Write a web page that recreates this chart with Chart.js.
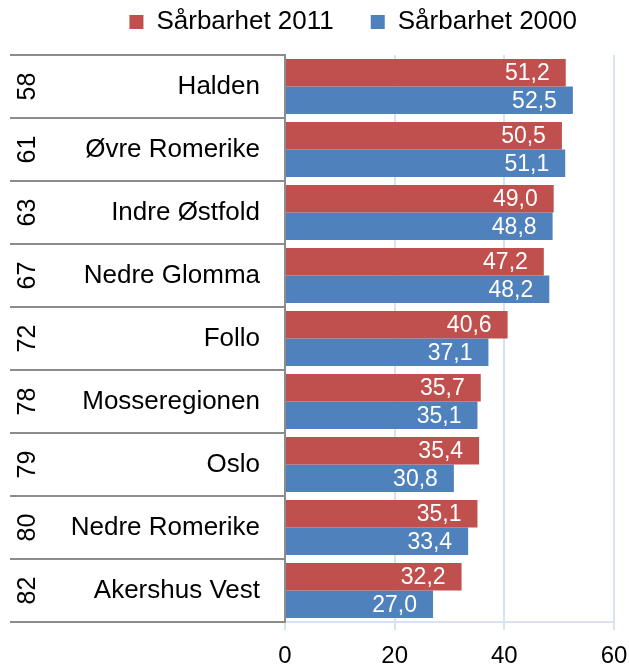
<!DOCTYPE html>
<html lang="no">
<head>
<meta charset="UTF-8">
<title>Sårbarhet 2000 og 2011</title>
<script src="https://cdn.jsdelivr.net/npm/chart.js@4/dist/chart.umd.min.js"></script>
<style>
    html, body { margin: 0; padding: 0; background: #ffffff; }
    .chart-box { position: relative; width: 629px; height: 665px; }
</style>
</head>
<body>
<div class="chart-box">
    <canvas id="sarbarhetChart"></canvas>
</div>
<script>
// --- Data ---
const regions = ['Halden', 'Øvre Romerike', 'Indre Østfold', 'Nedre Glomma', 'Follo',
    'Mosseregionen', 'Oslo', 'Nedre Romerike', 'Akershus Vest'];
const ranks = ['58', '61', '63', '67', '72', '78', '79', '80', '82'];
const values2011 = [51.2, 50.5, 49.0, 47.2, 40.6, 35.7, 35.4, 35.1, 32.2];
const values2000 = [52.5, 51.1, 48.8, 48.2, 37.1, 35.1, 30.8, 33.4, 27.0];
const xTicks = [0, 20, 40, 60];

// --- Styling ---
const FONT = "'Liberation Sans', Arial, sans-serif";
const RED = '#C0504D';
const BLUE = '#4F81BD';
const GRID_BLUE = '#D9E2F0';
const AXIS_GREY = '#8C8C8C';

const formatValue = (v) => v.toFixed(1).replace('.', ',');

// Rank numbers and separator lines for the two-level category axis
const categoryBoxes = {
    id: 'categoryBoxes',
    afterDraw(chart) {
        const { ctx, chartArea } = chart;
        const band = (chartArea.bottom - chartArea.top) / regions.length;
        ctx.save();
        ctx.strokeStyle = AXIS_GREY;
        ctx.lineWidth = 2;
        for (let i = 0; i <= regions.length; i++) {
            const y = Math.round(chartArea.top + i * band);
            ctx.beginPath();
            ctx.moveTo(10, y);
            ctx.lineTo(chartArea.left, y);
            ctx.stroke();
        }
        ctx.fillStyle = '#000000';
        ctx.font = `25px ${FONT}`;
        ctx.textAlign = 'center';
        ctx.textBaseline = 'middle';
        ranks.forEach((r, i) => {
            const y = chart.scales.y.getPixelForValue(i);
            ctx.save();
            ctx.translate(28, y);
            ctx.rotate(-Math.PI / 2);
            ctx.fillText(r, 0, 0);
            ctx.restore();
        });
        ctx.restore();
    }
};

// White value labels inside the end of each bar
const barValues = {
    id: 'barValues',
    afterDatasetsDraw(chart) {
        const { ctx } = chart;
        ctx.save();
        ctx.fillStyle = '#ffffff';
        ctx.font = `23px ${FONT}`;
        ctx.textAlign = 'right';
        ctx.textBaseline = 'middle';
        chart.data.datasets.forEach((ds, di) => {
            chart.getDatasetMeta(di).data.forEach((bar, i) => {
                ctx.fillText(formatValue(ds.data[i]), bar.x - 16, bar.y + 1);
            });
        });
        ctx.restore();
    }
};

new Chart(document.getElementById('sarbarhetChart'), {
    type: 'bar',
    data: {
        labels: regions,
        datasets: [{
            label: 'Sårbarhet 2011',
            data: values2011,
            backgroundColor: RED,
            xAxisID: 'x',
            yAxisID: 'y'
        }, {
            label: 'Sårbarhet 2000',
            data: values2000,
            backgroundColor: BLUE,
            xAxisID: 'x',
            yAxisID: 'y'
        }]
    },
    options: {
        indexAxis: 'y',
        responsive: true,
        maintainAspectRatio: false,
        animation: false,
        categoryPercentage: 0.87,
        barPercentage: 1,
        layout: {
            padding: { top: -28, left: 0, right: 15, bottom: 0 }
        },
        plugins: {
            legend: {
                position: 'top',
                align: 'end',
                labels: {
                    color: '#000000',
                    font: { family: FONT, size: 26 },
                    boxWidth: 14,
                    boxHeight: 14,
                    padding: 37
                }
            },
            tooltip: { enabled: false }
        },
        scales: {
            x: {
                min: 0,
                max: 60,
                afterBuildTicks: (scale) => {
                    scale.ticks = xTicks.map(v => ({ value: v }));
                },
                afterFit: (scale) => {
                    scale.height = 43;
                    scale.paddingLeft = 0;
                    scale.paddingRight = 0;
                },
                grid: {
                    color: (c) => c.index === 0 ? 'rgba(0,0,0,0)' : GRID_BLUE,
                    tickColor: GRID_BLUE,
                    lineWidth: 2,
                    tickLength: 8
                },
                border: { color: GRID_BLUE, width: 2 },
                ticks: {
                    color: '#000000',
                    font: { family: FONT, size: 24 },
                    padding: 12,
                    maxRotation: 0
                }
            },
            // empty strip between the legend and the plot
            spacer: {
                type: 'linear',
                axis: 'x',
                position: 'top',
                ticks: { display: false },
                grid: { display: false },
                border: { display: false },
                afterFit: (scale) => { scale.height = 10; }
            },
            y: {
                afterFit: (scale) => { scale.width = 285; },
                grid: { display: false, drawTicks: false },
                border: { color: AXIS_GREY, width: 2 },
                ticks: {
                    color: '#000000',
                    font: { family: FONT, size: 26 },
                    padding: 25
                }
            }
        }
    },
    plugins: [categoryBoxes, barValues]
});
</script>
</body>
</html>
